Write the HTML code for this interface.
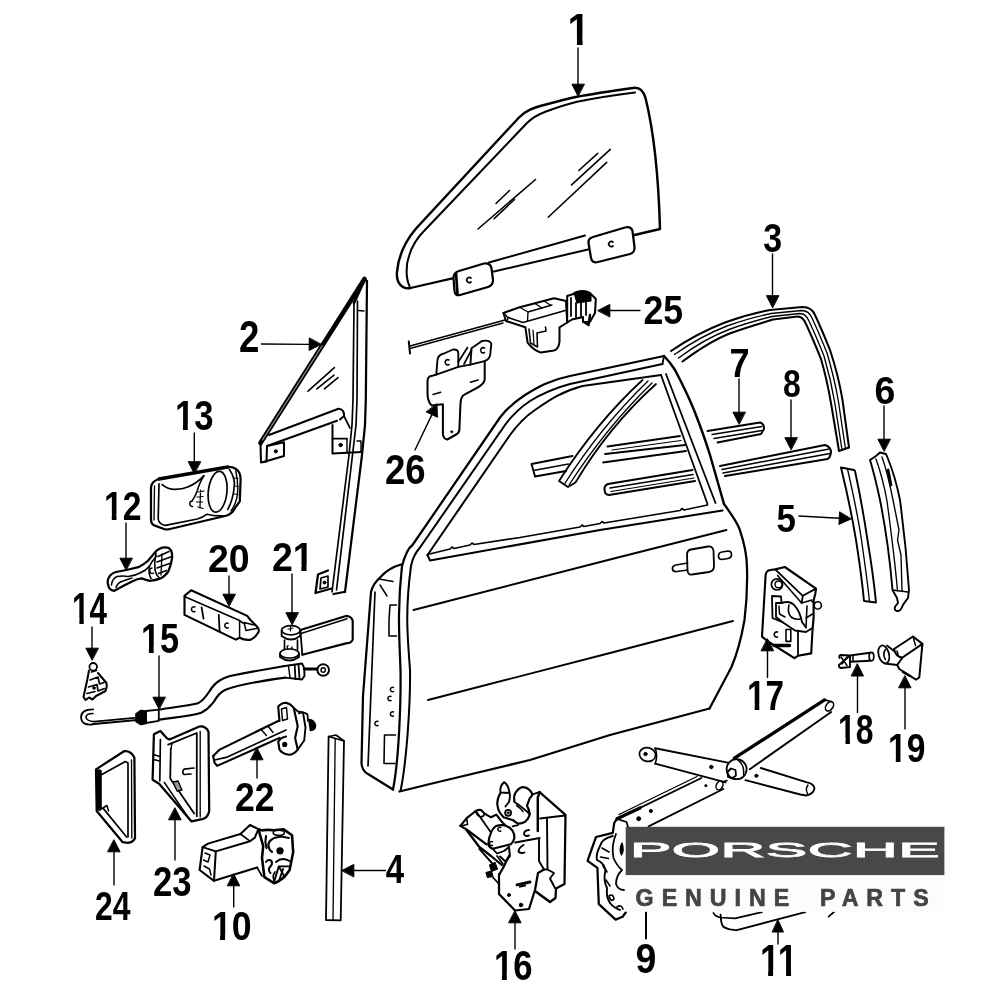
<!DOCTYPE html>
<html><head><meta charset="utf-8"><title>Door parts diagram</title>
<style>
html,body{margin:0;padding:0;background:#fff;}
body{width:1000px;height:1000px;overflow:hidden;position:relative;}
svg{position:absolute;left:0;top:0;display:block;filter:blur(0.35px);}
svg *{stroke:#000;stroke-linecap:round;stroke-linejoin:round;}
svg text{stroke:none;fill:#000;font-family:"Liberation Sans",sans-serif;font-weight:bold;}
svg text.n{stroke:none;}
svg text.p{fill:#fff;font-weight:normal;stroke:#fff;stroke-width:1.7px;vector-effect:non-scaling-stroke;stroke-linejoin:miter;}
svg text.g{fill:#444;stroke:#444;stroke-width:0.7px;}
</style></head><body>
<svg width="1000" height="1000" viewBox="0 0 1000 1000">
<text class="n" font-size="43.5" transform="translate(567.6 45.0) scale(0.927 1)">1</text>
<rect x="568.79" y="39.35" width="8.13" height="7.17" style="fill:#fff;stroke:none"/>
<rect x="582.56" y="39.35" width="10.02" height="7.17" style="fill:#fff;stroke:none"/>
<text class="n" font-size="44.3" transform="translate(238.9 352.0) scale(0.829 1)">2</text>
<text class="n" font-size="40.1" transform="translate(763.3 252.1) scale(0.847 1)">3</text>
<text class="n" font-size="39.9" transform="translate(385.8 883.0) scale(0.828 1)">4</text>
<text class="n" font-size="39.3" transform="translate(776.5 532.1) scale(0.891 1)">5</text>
<text class="n" font-size="39.4" transform="translate(874.5 403.6) scale(0.951 1)">6</text>
<text class="n" font-size="41.2" transform="translate(729.6 377.4) scale(0.878 1)">7</text>
<text class="n" font-size="38.7" transform="translate(783.0 397.1) scale(0.826 1)">8</text>
<text class="n" font-size="42.3" transform="translate(635.5 972.6) scale(0.887 1)">9</text>
<text class="n" font-size="41.5" transform="translate(211.9 940.1) scale(0.858 1)">10</text>
<rect x="212.93" y="934.68" width="7.18" height="6.86" style="fill:#fff;stroke:none"/>
<rect x="225.10" y="934.68" width="7.54" height="6.86" style="fill:#fff;stroke:none"/>
<text class="n" font-size="43.5" transform="translate(759.9 976.0) scale(0.820 1)">11</text>
<rect x="760.93" y="970.35" width="7.19" height="7.17" style="fill:#fff;stroke:none"/>
<rect x="773.11" y="970.35" width="7.54" height="7.17" style="fill:#fff;stroke:none"/>
<rect x="778.87" y="970.35" width="7.19" height="7.17" style="fill:#fff;stroke:none"/>
<rect x="791.05" y="970.35" width="8.86" height="7.17" style="fill:#fff;stroke:none"/>
<text class="n" font-size="41.4" transform="translate(104.0 519.5) scale(0.813 1)">12</text>
<rect x="104.99" y="514.11" width="6.78" height="6.84" style="fill:#fff;stroke:none"/>
<rect x="116.49" y="514.11" width="7.12" height="6.84" style="fill:#fff;stroke:none"/>
<text class="n" font-size="42.3" transform="translate(174.9 430.1) scale(0.820 1)">13</text>
<rect x="175.96" y="424.58" width="6.98" height="6.97" style="fill:#fff;stroke:none"/>
<rect x="187.79" y="424.58" width="7.33" height="6.97" style="fill:#fff;stroke:none"/>
<text class="n" font-size="43.5" transform="translate(72.1 624.0) scale(0.723 1)">14</text>
<rect x="73.06" y="618.35" width="6.33" height="7.17" style="fill:#fff;stroke:none"/>
<rect x="83.79" y="618.35" width="6.65" height="7.17" style="fill:#fff;stroke:none"/>
<text class="n" font-size="42.9" transform="translate(140.9 652.6) scale(0.801 1)">15</text>
<rect x="141.97" y="647.00" width="6.91" height="7.07" style="fill:#fff;stroke:none"/>
<rect x="153.69" y="647.00" width="7.26" height="7.07" style="fill:#fff;stroke:none"/>
<text class="n" font-size="42.3" transform="translate(493.9 979.6) scale(0.820 1)">16</text>
<rect x="494.96" y="974.08" width="6.98" height="6.97" style="fill:#fff;stroke:none"/>
<rect x="506.79" y="974.08" width="7.33" height="6.97" style="fill:#fff;stroke:none"/>
<text class="n" font-size="42.0" transform="translate(747.0 710.0) scale(0.789 1)">17</text>
<rect x="748.00" y="704.54" width="6.68" height="6.93" style="fill:#fff;stroke:none"/>
<rect x="759.33" y="704.54" width="7.02" height="6.93" style="fill:#fff;stroke:none"/>
<text class="n" font-size="42.3" transform="translate(838.1 743.6) scale(0.754 1)">18</text>
<rect x="839.04" y="738.08" width="6.42" height="6.97" style="fill:#fff;stroke:none"/>
<rect x="849.93" y="738.08" width="6.74" height="6.97" style="fill:#fff;stroke:none"/>
<text class="n" font-size="40.1" transform="translate(888.0 762.1) scale(0.839 1)">19</text>
<rect x="888.99" y="756.88" width="6.78" height="6.62" style="fill:#fff;stroke:none"/>
<rect x="900.49" y="756.88" width="7.12" height="6.62" style="fill:#fff;stroke:none"/>
<text class="n" font-size="39.4" transform="translate(207.9 571.6) scale(0.951 1)">20</text>
<text class="n" font-size="40.0" transform="translate(271.9 570.5) scale(0.938 1)">21</text>
<rect x="293.75" y="565.30" width="7.56" height="6.60" style="fill:#fff;stroke:none"/>
<rect x="306.56" y="565.30" width="9.32" height="6.60" style="fill:#fff;stroke:none"/>
<text class="n" font-size="41.4" transform="translate(234.9 811.0) scale(0.859 1)">22</text>
<text class="n" font-size="42.3" transform="translate(153.0 895.6) scale(0.819 1)">23</text>
<text class="n" font-size="41.4" transform="translate(95.0 919.5) scale(0.771 1)">24</text>
<text class="n" font-size="40.1" transform="translate(643.4 323.6) scale(0.890 1)">25</text>
<text class="n" font-size="42.3" transform="translate(384.9 483.6) scale(0.865 1)">26</text>
<line x1="578" y1="48" x2="578.0" y2="84.2" stroke-width="1.4"/>
<polygon points="578,96 571.9,84.2 584.1,84.2" fill="#000" stroke-width="1"/>
<line x1="261.5" y1="344" x2="309.2" y2="344.4" stroke-width="1.4"/>
<polygon points="321,344.5 309.1,350.5 309.3,338.3" fill="#000" stroke-width="1"/>
<line x1="772.5" y1="254" x2="772.5" y2="295.7" stroke-width="1.4"/>
<polygon points="772.5,307.5 766.4,295.7 778.6,295.7" fill="#000" stroke-width="1"/>
<line x1="385.5" y1="870.5" x2="353.8" y2="870.5" stroke-width="1.4"/>
<polygon points="342,870.5 353.8,864.4 353.8,876.6" fill="#000" stroke-width="1"/>
<line x1="799" y1="516" x2="839.2" y2="518.3" stroke-width="1.4"/>
<polygon points="851,519 838.9,524.4 839.6,512.2" fill="#000" stroke-width="1"/>
<line x1="884" y1="406" x2="884.0" y2="439.2" stroke-width="1.4"/>
<polygon points="884,451 877.9,439.2 890.1,439.2" fill="#000" stroke-width="1"/>
<line x1="739" y1="379" x2="739.0" y2="412.2" stroke-width="1.4"/>
<polygon points="739,424 732.9,412.2 745.1,412.2" fill="#000" stroke-width="1"/>
<line x1="791" y1="400" x2="791.0" y2="437.7" stroke-width="1.4"/>
<polygon points="791,449.5 784.9,437.7 797.1,437.7" fill="#000" stroke-width="1"/>
<path d="M646,912 L646,938.5" stroke-width="2.02" fill="none" />
<line x1="233.7" y1="907" x2="233.7" y2="885.8" stroke-width="1.4"/>
<polygon points="233.7,874 239.8,885.8 227.6,885.8" fill="#000" stroke-width="1"/>
<line x1="778" y1="944" x2="778.0" y2="932.0" stroke-width="1.4"/>
<polygon points="778,920 783.5,932.0 772.5,932.0" fill="#000" stroke-width="1"/>
<line x1="126" y1="523" x2="126.0" y2="558.2" stroke-width="1.4"/>
<polygon points="126,570 119.9,558.2 132.1,558.2" fill="#000" stroke-width="1"/>
<line x1="194.3" y1="433" x2="194.3" y2="461.7" stroke-width="1.4"/>
<polygon points="194.3,473.5 188.2,461.7 200.4,461.7" fill="#000" stroke-width="1"/>
<line x1="92" y1="627" x2="92.0" y2="648.2" stroke-width="1.4"/>
<polygon points="92,660 85.9,648.2 98.1,648.2" fill="#000" stroke-width="1"/>
<line x1="159" y1="656" x2="159.0" y2="697.2" stroke-width="1.4"/>
<polygon points="159,709 152.9,697.2 165.1,697.2" fill="#000" stroke-width="1"/>
<line x1="515" y1="949" x2="515.0" y2="922.8" stroke-width="1.4"/>
<polygon points="515,911 521.1,922.8 508.9,922.8" fill="#000" stroke-width="1"/>
<line x1="767.5" y1="677.5" x2="767.5" y2="650.8" stroke-width="1.4"/>
<polygon points="767.5,639 773.6,650.8 761.4,650.8" fill="#000" stroke-width="1"/>
<line x1="857.5" y1="712.5" x2="857.5" y2="676.0" stroke-width="1.4"/>
<polygon points="857.5,664 863.5,676.0 851.5,676.0" fill="#000" stroke-width="1"/>
<line x1="905" y1="729" x2="905.0" y2="687.8" stroke-width="1.4"/>
<polygon points="905,676 911.1,687.8 898.9,687.8" fill="#000" stroke-width="1"/>
<line x1="229" y1="576" x2="229.0" y2="594.2" stroke-width="1.4"/>
<polygon points="229,606 222.9,594.2 235.1,594.2" fill="#000" stroke-width="1"/>
<line x1="292" y1="574" x2="292.0" y2="612.7" stroke-width="1.4"/>
<polygon points="292,624.5 285.9,612.7 298.1,612.7" fill="#000" stroke-width="1"/>
<line x1="257" y1="778" x2="257.0" y2="759.8" stroke-width="1.4"/>
<polygon points="257,748 263.1,759.8 250.9,759.8" fill="#000" stroke-width="1"/>
<line x1="175" y1="860" x2="175.0" y2="819.8" stroke-width="1.4"/>
<polygon points="175,808 181.1,819.8 168.9,819.8" fill="#000" stroke-width="1"/>
<line x1="114" y1="885" x2="114.0" y2="851.8" stroke-width="1.4"/>
<polygon points="114,840 120.1,851.8 107.9,851.8" fill="#000" stroke-width="1"/>
<line x1="640" y1="310.5" x2="609.8" y2="310.5" stroke-width="1.4"/>
<polygon points="598,310.5 609.8,304.4 609.8,316.6" fill="#000" stroke-width="1"/>
<line x1="415" y1="450" x2="431.9" y2="414.6" stroke-width="1.4"/>
<polygon points="437,404 437.4,417.3 426.4,412.0" fill="#000" stroke-width="1"/>
<path d="M410.5,288 C402,289.5 396,283 397,272 C398.5,254 407,239 416.5,228 L519,117.5 C526,110.5 533,108 545,104.8 C560,100.8 570,98.3 577,96.8 C595,93.3 615,90.5 633,88 C640,87 643.5,91 645.5,98 C653,128 658.5,176 660,229 L634.5,235" stroke-width="2.46" fill="none" />
<path d="M409.5,286 C405.5,278 406,264 409,256 C412,246 417,238 424,231 L527,123 C533,117 538,114.5 546,111.5 C560,106.5 570,103.5 577,101.8 C597,97.5 617,94.8 635,92.5" stroke-width="2.02" fill="none" />
<path d="M453.5,278.2 L410.5,288" stroke-width="2.24" fill="none" />
<path d="M585,235.5 L489,262.5" stroke-width="2.02" fill="none" />
<path d="M588,249.5 L494,271.5" stroke-width="2.02" fill="none" />
<path d="M459,271 L484,263.5 Q490,262.5 491.5,268 L493,280 Q493,285.5 488,287 L460,295 Q455,296 454.5,291 L453.5,278 Q453.5,272.5 459,271 Z" stroke-width="2.24" fill="#fff" />
<path d="M456,273 L457.5,294" stroke-width="2.69" fill="none" />
<path d="M593,237 L625,227.5 Q631,226 632.5,231 L634.5,247 Q635,252.5 630,254 L598,262 Q592,263.5 591,258 L588.5,243 Q588,238.5 593,237 Z" stroke-width="2.24" fill="#fff" />
<path d="M471,278 A2.6,2.6 0 1 0 471,282" stroke-width="1.68" fill="none" />
<path d="M613,242 A2.6,2.6 0 1 0 613,246" stroke-width="1.68" fill="none" />
<path d="M478,229 L535.5,179.5" stroke-width="1.57" fill="none" />
<path d="M496,203.5 L509.5,190.5" stroke-width="1.57" fill="none" />
<path d="M494.2,218.6 L514.5,199.5" stroke-width="1.57" fill="none" />
<path d="M548.2,217.3 L606.7,162.4" stroke-width="1.57" fill="none" />
<path d="M578.8,170.5 L597.7,153.4" stroke-width="1.57" fill="none" />
<path d="M571.6,184.9 L610.3,149.4" stroke-width="1.57" fill="none" />
<path d="M364.5,279 L260.5,443" stroke-width="4.7" fill="none" />
<path d="M367,281 L365.8,400 L365,425 L362,455 L345,592" stroke-width="2.24" fill="none" />
<path d="M357.5,301 L357,400 L356,425 L352.5,455 L336.5,590" stroke-width="1.68" fill="none" />
<path d="M354,303 L353,400 L352,425 L349,455 L332,592" stroke-width="1.68" fill="none" />
<path d="M364.5,279 L367,281" stroke-width="2.24" fill="none" />
<path d="M354,303 L364,281" stroke-width="2.8" fill="none" />
<path d="M358.5,310.5 L364,311" stroke-width="1.46" fill="none" />
<path d="M269,435 L338.5,408.8 Q344.5,409.5 344,416 L340,419.5" stroke-width="2.02" fill="none" />
<path d="M337,420.8 L267,446" stroke-width="2.02" fill="none" />
<path d="M344,416 L350,428" stroke-width="1.68" fill="none" />
<path d="M260.5,443 L261,462.5 L266.5,461.5 L267,446" stroke-width="2.02" fill="none" />
<path d="M267,446 L284,442.3 L284,456 L263.5,462" stroke-width="2.02" fill="none" />
<circle cx="275.8" cy="451.3" r="1.6" stroke-width="1" fill="#000"/>
<path d="M332.5,425 L332.5,453.5 L362,452" stroke-width="2.02" fill="none" />
<path d="M332.5,438.7 L347,438.7" stroke-width="1.79" fill="none" />
<path d="M347,438.7 L347,453" stroke-width="1.46" fill="none" />
<circle cx="340.6" cy="445" r="1.7" stroke-width="1" fill="#000"/>
<path d="M357,441 L361,441 L361,452" stroke-width="1.46" fill="none" />
<path d="M308,391.2 L334.4,367.6" stroke-width="1.57" fill="none" />
<path d="M316.8,388.8 L334,375.2" stroke-width="1.57" fill="none" />
<path d="M324.4,388.8 L338,377.6" stroke-width="1.57" fill="none" />
<line x1="322" y1="346" x2="262.5" y2="440" style="stroke:#999;stroke-width:1.1"/>
<path d="M331.5,588.5 L315.5,593 L318,574.5 L328,570.5" stroke-width="2.24" fill="none" />
<path d="M321,578 L328,576 L328,587 L320,589 L321,578" stroke-width="1.68" fill="none" />
<circle cx="324.5" cy="582.5" r="1.5" stroke-width="1" fill="#000"/>
<path d="M333.5,594 L344,592" stroke-width="2.24" fill="none" />
<path d="M393,789.5 C399,760 401,700 400.5,670 C399.5,640 397,610 402,566 C405,555 408,548 412.5,545 L500,417.5 C508,407 516,401 525,395 C538,387 550,380 570,376 L664,356" stroke-width="2.24" fill="none" />
<path d="M400.5,791 C407,760 410.5,700 410,670 C408,640 404.5,615 411,566 C413,556 416,552 420,547.5 L505,425 C513,414 521,407 530,401 C543,393 555,388 570,384 L662.5,364" stroke-width="2.02" fill="none" />
<path d="M427.5,555 L510,435 C518,424 526,416 535,410 C548,401 560,392 582.5,386 L661,375" stroke-width="2.02" fill="none" />
<path d="M664,356 C669,361 672,365 675,370 C683,385 690,400 695,412.5 C701,428 706,442 710,455 L724,504" stroke-width="2.46" fill="none" />
<path d="M661,375 L707.5,504" stroke-width="1.79" fill="none" />
<path d="M666,374 L715.5,503" stroke-width="1.79" fill="none" />
<path d="M662.5,364 L664,356" stroke-width="1.79" fill="none" />
<path d="M427.5,554.5 L450,549 L452,547 L454,548.5 L470,545 L472,543 L474,544.5 L520,537.5 L580,527 L582,525 L584,526.5 L600,523.5 L602,521.5 L604,523 L680,510.5 L682,508.5 L684,510 L707.5,505" stroke-width="1.68" fill="none" />
<path d="M427.5,555 L430,560.5 L600,530 L722.5,510.5" stroke-width="2.02" fill="none" />
<path d="M724,504 C732,515 737,522 739.5,529 C744,542 747,555 747,568 C747.5,586 746.5,604 744.5,620 C741,640 737,654 731.5,667 L709.5,708.5" stroke-width="2.24" fill="none" />
<path d="M709.5,708.5 L610,735 L530,760 L430,784 L399.5,791.5" stroke-width="2.24" fill="none" />
<path d="M413.5,610 L610,559.5 L726.5,530" stroke-width="1.9" fill="none" />
<path d="M428,700 L610,653 L733,621" stroke-width="1.9" fill="none" />
<path d="M401,564.5 C392,567 386,571 381,576.5 C375,582 372,587 371,592 L363,696 L361.5,763.5 C362,769 364,772 368,774 L393,789.5" stroke-width="2.24" fill="none" />
<path d="M375,592 L368,766" stroke-width="1.68" fill="none" />
<path d="M379,579 L393,581.5" stroke-width="1.46" fill="none" />
<path d="M380,585 L387,596" stroke-width="1.46" fill="none" />
<path d="M396.5,605 L390,605 Q388.5,620 389,636 L396.5,636" stroke-width="1.57" fill="none" />
<path d="M395.5,735 L384.5,735 L384,763.5 L395,763.5" stroke-width="1.57" fill="none" />
<path d="M393.5,687.5 A2.2,2.2 0 1 0 393.5,691.5" stroke-width="1.46" fill="none" />
<path d="M391,696.5 A2.2,2.2 0 1 0 391,700.5" stroke-width="1.46" fill="none" />
<path d="M393.5,712 A2.2,2.2 0 1 0 393.5,716" stroke-width="1.46" fill="none" />
<path d="M378,721.5 A2.2,2.2 0 1 0 378,725.5" stroke-width="1.46" fill="none" />
<path d="M691,549.5 L708,546.5 Q713,546 713.5,551 L714,566 Q714,571 709,572 L692,574.5 Q687.5,575 687.5,570 L687,555 Q687,550 691,549.5 Z" stroke-width="1.79" fill="none" />
<path d="M687.5,563 L676,565 Q672,566 672.5,569 Q673,572 677,571.5 L687.5,570" stroke-width="1.68" fill="none" />
<path d="M722,552 L728,551 Q731.5,551 731.5,554.5 Q731.5,558 728,558.5 L722,559.5 Q718.5,559.5 718.5,556 Q718.5,552.5 722,552 Z" stroke-width="1.68" fill="none" />
<path d="M642.5,380 C610,410 580,448 559,481 L568,487 L575.5,482.5 C596,448 625,412 656,384" stroke-width="1.79" fill="none" />
<path d="M648,381 C616,412 586,450 564.5,484" stroke-width="1.34" fill="none" />
<path d="M652,383 C620,414 591,451 569,485" stroke-width="1.34" fill="none" />
<path d="M572.5,456 L531.5,464 L533.5,471 L535,476.5 L566,471" stroke-width="1.9" fill="none" />
<path d="M533.5,470.5 L568.5,464" stroke-width="1.34" fill="none" />
<path d="M607.5,446.5 L680,436" stroke-width="1.79" fill="none" />
<path d="M605,454 L685,445" stroke-width="1.79" fill="none" />
<path d="M603,462.5 L686,451" stroke-width="1.79" fill="none" />
<path d="M612,450 L681,440.5" stroke-width="1.23" fill="none" />
<path d="M707.5,431 L760,422.5 Q764.5,424 764,429 L761,434 L717.5,442.5" stroke-width="1.9" fill="none" />
<path d="M712,434.5 L762,426.5" stroke-width="1.34" fill="none" />
<path d="M714,438.5 L762,430.5" stroke-width="1.34" fill="none" />
<path d="M692.5,470 L608,484 Q604,485.5 604.5,490 Q605,495 609,495 L695,481" stroke-width="2.02" fill="none" />
<path d="M610,488 L693,474.5" stroke-width="1.57" fill="none" />
<path d="M611,491.5 L694,478" stroke-width="1.23" fill="none" />
<path d="M720,466 L825,445 Q831,447 831,452.5 Q830,458 827.5,459 L725,476" stroke-width="2.02" fill="none" />
<path d="M722,469.5 L829,449" stroke-width="1.46" fill="none" />
<path d="M723,473 L830,453.5" stroke-width="1.46" fill="none" />
<path d="M671,351 C690,338 708,329 725,322.5 C740,317 755,313 770,310 L802.5,307 C809,307 813,310 815,315 C822,330 826,340 830,350 C836,368 840,385 842.5,400 L849,447.5" stroke-width="2.02" fill="none" />
<path d="M674.5,354.5 C693,341.5 710,332.5 727,326 C742,320.5 757,316.5 771,313.5 L801.5,310.5 C807,310.5 810,313 812,318 C819,333 823,343 827,353 C832,370 836,387 838.5,402 L845.5,449" stroke-width="1.34" fill="none" />
<path d="M678.5,358 C696,345 712,336 729,329.5 C744,324 758,320 772,316.5 L799.5,313.5 C804,313.5 807,316 809,321 C816,336 820,346 824,356 C829,373 832.5,389 835,404 L842,450" stroke-width="1.34" fill="none" />
<path d="M682.5,361.5 C700,348.5 714,339.5 731,333 C746,327.5 760,323.5 773,319.5 L797.5,316.5 C801,316.5 804,319 806,324 C813,339 817,349 821,359 C826,376 829,391 831.5,406 L839,451 L849,447.5" stroke-width="2.02" fill="none" />
<path d="M841,467.5 L854,470 L855,471 C860,494 864,517 867.5,540 C871,561 874,582 876,602.5 L864,601 C862,580 859,559 856,540 C852,516 847,492 841,467.5 Z" stroke-width="1.9" fill="none" />
<path d="M847.5,469 C853,493 858,517 861.5,540 C864.5,561 867.5,582 869.5,601.5" stroke-width="1.34" fill="none" />
<path d="M870,460 L876,456 L880,452.5 L886,454 L887.5,457.5 C893,471 897,485 900,500 C904,530 907,560 909,590 L908,598 C905,602 903,604 902,607 Q900.5,611.5 896.5,611 Q893.5,609.5 895.5,606 L898,603 L897,598 L892.5,590 C890,560 886,530 880,500 C877,486 874,473 870,460 Z" stroke-width="1.9" fill="none" />
<path d="M876,459 C881,473 884.5,487 887,501 C891,531 895,561 897.5,591" stroke-width="1.34" fill="none" />
<path d="M882,457 C887,471 890,485 893,500 C895,510 896,515 897,520 L899,530 L897.5,540 L901,555 L902,591" stroke-width="1.34" fill="none" />
<path d="M888,470 L891,485" stroke-width="2.8" fill="none" />
<path d="M892.5,590 L908,592" stroke-width="1.57" fill="none" />
<path d="M408.8,341.5 L410,353.5" stroke-width="2.02" fill="none" />
<path d="M410,346 L505,320" stroke-width="1.68" fill="none" />
<path d="M410,348.5 L503,323" stroke-width="1.34" fill="none" />
<path d="M436.3,374.6 L437.4,360.3 Q438,354.5 444,353.5 L453,349.5 Q458,349 458.3,353 L458.3,366.9 Z" stroke-width="1.9" fill="#fff" />
<path d="M449,360 A2.6,2.6 0 1 0 449,364.5" stroke-width="1.57" fill="none" />
<path d="M470.4,364.7 L471.5,348.2 L482,341 Q490,339.5 491.3,344 L490.2,355 Q489,360 483.6,361.4 Z" stroke-width="1.9" fill="#fff" />
<path d="M484.5,348 A2.6,2.6 0 1 0 484.5,352.5" stroke-width="1.57" fill="none" />
<path d="M458.3,362 L467.5,347.5" stroke-width="1.68" fill="none" />
<path d="M464,364 L471.5,350" stroke-width="1.68" fill="none" />
<path d="M458.3,366.9 L470.4,364.7" stroke-width="1.68" fill="none" />
<path d="M436.3,374.6 L429.5,376.5 Q427.5,378 427.5,381 L427.5,394.4 Q428,402 431.5,405.4 L442.9,404.3 L442.9,434 Q443.5,439 447.3,439.5 L457,434 Q459.5,432.5 459.4,429 L460.5,403.2 Q461,396 464.9,394.4 L477,387.8 Q484.5,384 484.7,379 L484.7,361" stroke-width="2.02" fill="none" />
<path d="M433,394.4 L440.7,392.2" stroke-width="1.57" fill="none" />
<path d="M470.4,382.3 L478.1,380.1" stroke-width="1.57" fill="none" />
<circle cx="451.7" cy="431.8" r="1" stroke-width="1" fill="#000"/>
<path d="M503.4,313 L518.8,307.5 L554,298.3 L566,301 L567.2,322.5 L559.5,327.3 L559.5,341.6 Q558.5,349.5 554,350.4 L540.8,352.6 Q533,350 527.6,342.7 L525.4,327.3 L506,321 Z" stroke-width="2.02" fill="none" />
<path d="M503.4,313 L508,317.5 L523,322.5 L567,310" stroke-width="1.57" fill="none" />
<path d="M508,317.5 L507,321.5" stroke-width="1.34" fill="none" />
<path d="M520,307.5 L528,312 L527.5,321" stroke-width="1.34" fill="none" />
<path d="M528,312 L552,305" stroke-width="1.34" fill="none" />
<path d="M535,303.5 L542,308" stroke-width="1.34" fill="none" />
<path d="M544,301 L551,305.5" stroke-width="1.34" fill="none" />
<path d="M529,329 L530.5,343 L537.5,347 L537,333 L546,331 L545.5,327" stroke-width="1.57" fill="none" />
<path d="M533,330 L534,344.5" stroke-width="1.23" fill="none" />
<path d="M567.2,296 L575,293.5 L592,295 L595.8,299 L595,313 L590,321.8 L583,322 L583,317 L572,319.5 L567.2,322.5 Z" stroke-width="2.02" fill="#fff" />
<path d="M574,292.5 Q583,288.5 591,293 L591,301 L577,303 Z" stroke-width="1.12" fill="#000" />
<path d="M571,298 L571,316 M576,303 L576,317 M581,303 L581,316 M586,301 L586,315" stroke-width="1.79" fill="none" />
<path d="M590,315 L588.5,325 L584,322" stroke-width="2.46" fill="none" />
<path d="M159,479 L227.8,467" stroke-width="3.58" fill="none" />
<path d="M159,479 Q152,481 151,487 L151,519 Q151,524 154.2,525.4 L164,529 Q166,530 170,529 L225,516 Q232,514.5 235,508 L239.8,501.4 L240.6,479 Q240.5,472 236,469 Q232,466.5 227.8,467" stroke-width="2.24" fill="none" />
<path d="M159,483.8 L158.2,519 Q159,524.5 165.4,525.4 L197.4,519 Q203,517.5 207,514.2 Q215,516.5 223,515.8" stroke-width="1.68" fill="none" />
<path d="M154.5,486 L154,520" stroke-width="1.34" fill="none" />
<path d="M162.2,484.6 Q168,489.5 175,489.4 Q182,489.5 187.8,487 Q197,483 203.8,475.8" stroke-width="1.79" fill="none" />
<path d="M203.8,475.8 Q199,484 197.4,490.2 Q195,497 192.5,500" stroke-width="1.57" fill="none" />
<path d="M192.5,501 A2.6,2.6 0 1 0 192.5,506.5" stroke-width="1.46" fill="none" />
<path d="M198,492 L204,491 M197,497 L203,496.5 M196.5,502 L202.5,502 M198,507 L203,508.5 M200.5,490 L200,508" stroke-width="1.23" fill="none" />
<ellipse cx="217.6" cy="491.8" rx="9.3" ry="20.5" stroke-width="1.7" fill="none" transform="rotate(6 217.6 491.8)"/>
<path d="M229.4,469.4 Q235.5,478 234.2,487 Q233,500 227.8,509.4" stroke-width="1.68" fill="none" />
<path d="M235.8,471 Q238.5,483 237.4,495 Q236,504 231,511" stroke-width="1.46" fill="none" />
<path d="M234.5,478 L238,478.5 M235,486 L238.5,486.5 M234,494 L238,494.5" stroke-width="1.23" fill="none" />
<path d="M107.6,582.4 Q108,577.5 110.4,575.2 Q113,572.8 116,572 L126.4,570 L138.4,567.2 Q144,564.5 148,560.8 L156,551.2 Q159,548.5 162.4,547.6 Q166,546.8 168.8,548 Q171.5,550 172,553.6 Q172.5,557 171.6,560.8 Q170.5,567 168,572 Q165,576 160.8,578.4 Q155,580.5 149.6,580.8 Q145,579.5 141.6,578.4 Q137,579 133.6,580.8 L124,585.6 L114.4,590.8 Q110,590.5 108.8,587.2 Z" stroke-width="2.24" fill="none" />
<path d="M111.5,585 Q112,579 117,576.5 Q123,575.5 128,576.5 Q135,576 141,572.5" stroke-width="1.57" fill="none" />
<path d="M116,587.5 Q117.5,582.5 123,581 L132,578" stroke-width="1.46" fill="none" />
<path d="M141,572.5 Q146,570.5 149.5,566 Q152,561 156.5,556" stroke-width="1.57" fill="none" />
<path d="M149.5,566 Q148,573 151,578.5" stroke-width="1.57" fill="none" />
<path d="M156,553.5 Q154,562 155,570 Q156,575 159,577.5" stroke-width="1.57" fill="none" />
<path d="M158,556.5 L169,551.5 M157,562 L170.5,557 M157,568 L169.5,563.5 M158.5,573.5 L166.5,570.5" stroke-width="1.46" fill="none" />
<path d="M162,554 L161,575" stroke-width="1.34" fill="none" />
<path d="M152,568 A2.3,2.8 0 1 0 153.5,573" stroke-width="1.34" fill="none" />
<circle cx="93.2" cy="666.8" r="3.8" stroke-width="1.8" fill="none"/>
<path d="M89,670.5 L87.2,680 L83.5,697 L85.5,700 L89,697.5 L92.5,699.5 L96,696 L105.5,691 Q107.5,687 106.5,683 L98,673" stroke-width="2.02" fill="none" />
<path d="M90,680 L98,677 L99.5,684 L104,682.5 M88.5,687 L97,684.5 L98,691 L104.5,688.5 M87,693.5 L95,691.5" stroke-width="1.68" fill="none" />
<path d="M91.5,672 L96.5,670.5" stroke-width="1.57" fill="none" />
<circle cx="94" cy="688" r="1.3" stroke-width="1" fill="#000"/>
<path d="M93.2,709.4 Q81,709.5 81,717.5 Q82,726.5 94,724 L137,720" stroke-width="1.79" fill="none" />
<path d="M93,713.5 Q86,713.5 86,717.5 Q86.5,721 94,721.6 L137.2,717.6" stroke-width="1.57" fill="none" />
<path d="M136,714 L141,710.5 L146,711 L146,723.5 L141,724.5 L136,721.5 Z" stroke-width="1.68" fill="#000" />
<path d="M146,711 L158.8,709.6 L158.8,720.8 L146,723 Z" stroke-width="1.79" fill="none" />
<path d="M158.8,709.6 C175,707 190,705.5 198,703.2 C205,700 208,693 212,687.5 C216,682 221,678.5 230,676 C250,672 270,668.5 283.3,666.2" stroke-width="2.13" fill="none" />
<path d="M158.8,719.6 C178,717 192,716 201.2,712.8 C209,709 211,705 214,701.6 C217,696 221,692 225,690 C235,686 260,681 285.2,677.6" stroke-width="2.13" fill="none" />
<path d="M283.3,666.2 L302,663.5 L304.2,668 L304.5,676 L302,679.5 L285.2,677.6" stroke-width="1.9" fill="none" />
<path d="M288.5,666 L290,677.5" stroke-width="1.46" fill="none" />
<path d="M294.7,665 L295.5,679" stroke-width="1.79" fill="none" />
<path d="M298.5,664.5 L299.5,679" stroke-width="1.79" fill="none" />
<path d="M304.2,669 L317,669" stroke-width="2.91" fill="none" />
<circle cx="323.2" cy="670" r="5.8" stroke-width="2" fill="none"/>
<circle cx="323.2" cy="670" r="2.2" stroke-width="1.4" fill="none"/>
<path d="M184.5,595.9 L191.2,590.2 L247.2,615.9 L250,619.5 L256.7,626.3 Q259.5,629 258.6,632 Q256,637 251,639.6 Q245,640.5 239.6,637.7 L235.8,639.6 L184.5,614.9 Z" stroke-width="2.13" fill="none" />
<path d="M185.5,597 L239.6,620.6 L243,623" stroke-width="1.68" fill="none" />
<path d="M201.6,607.3 L203.5,618.7" stroke-width="1.79" fill="none" />
<path d="M218.7,614.9 L219.7,632" stroke-width="1.79" fill="none" />
<path d="M195,607 A2.5,2.5 0 1 0 195,611.5" stroke-width="1.46" fill="none" />
<path d="M228.3,623.3 A2.5,2.5 0 1 0 228.3,627.8" stroke-width="1.46" fill="none" />
<path d="M239.6,620.6 L239.6,637.7" stroke-width="1.46" fill="none" />
<path d="M244,622.5 L254,625 M246,630.5 L256.5,628.5 M244,622.5 L246,630.5" stroke-width="1.46" fill="none" />
<path d="M300.4,630.1 L346,615.9 Q351,616 352.7,620.6 L352.7,639.6 Q351.5,643 346,643.4 L302.3,654.8" stroke-width="2.13" fill="none" />
<path d="M301,633.5 L347,618.8" stroke-width="1.46" fill="none" />
<path d="M300.4,630.1 L302.3,654.8" stroke-width="1.79" fill="none" />
<ellipse cx="290.9" cy="630.3" rx="9.3" ry="4.6" stroke-width="1.7" fill="#fff" transform="rotate(0 290.9 630.3)"/>
<path d="M281.6,630.3 L281.6,636 Q291,643 300.2,636 L300.2,630.3" stroke-width="1.79" fill="none" />
<path d="M288,629 L293,628 M290.5,626.5 L290.5,631" stroke-width="1.23" fill="none" />
<path d="M284.5,640 L284.5,650 M297.5,640 L297.5,650" stroke-width="1.68" fill="none" />
<path d="M288,645.5 A2.4,2.4 0 1 0 292,647" stroke-width="1.34" fill="none" />
<ellipse cx="289.5" cy="653.5" rx="9.5" ry="4.5" stroke-width="1.7" fill="#fff" transform="rotate(0 289.5 653.5)"/>
<path d="M280,653.5 L280,657 Q289.5,664 299,657 L299,653.5" stroke-width="1.79" fill="none" />
<path d="M96,769.4 L124,751.2 Q131,750.5 134.4,757.7 L135,838.3 Q133,842.5 127.9,842.9 L122.7,842.2 L96.7,811 Z" stroke-width="2.24" fill="none" />
<path d="M99,772 L99,808" stroke-width="5.6" fill="none" />
<path d="M101.9,774.6 L125.3,761.6 L128,763 L128,837" stroke-width="1.68" fill="none" />
<path d="M131.5,760 L131.8,838" stroke-width="1.34" fill="none" />
<path d="M103.2,808.4 L126.6,837" stroke-width="1.68" fill="none" />
<path d="M99.5,810 L107,805.5 L108.5,811" stroke-width="1.46" fill="none" />
<path d="M153.9,734.3 L160.4,731 L166.9,738.2 L169.5,739.5 L199.4,726.5 Q206,726 208.5,731.7 L209.2,811 Q208,817.5 203.3,818.8 L191.6,821.4 L159.1,783.7 L152.6,779.8 Z" stroke-width="2.24" fill="none" />
<path d="M160.4,739.5 L159.8,781" stroke-width="1.68" fill="none" />
<path d="M153.3,754.5 L159.8,756.5 M153.3,759.5 L159.8,761" stroke-width="1.34" fill="none" />
<path d="M168.2,744.7 L196.8,733 L196.8,816.2" stroke-width="1.79" fill="none" />
<path d="M200.2,731.5 L200.2,817" stroke-width="1.34" fill="none" />
<path d="M170.8,748.6 L170.2,778.5 L194.2,813.6" stroke-width="1.79" fill="none" />
<path d="M164.3,782.4 L189,818.8" stroke-width="1.57" fill="none" />
<path d="M172,744 L171,748.6" stroke-width="1.34" fill="none" />
<path d="M194,768 L184,769.2 Q181.5,772 184,774.5 L191,774" stroke-width="1.68" fill="none" />
<path d="M173,782 L178,781 L182,790 L177,791 Z" stroke-width="1.34" fill="#999" />
<path d="M213.2,756.1 L219.7,749.6 L278.2,721" stroke-width="2.13" fill="none" />
<path d="M213.2,756.1 L214.5,762.6 L217.1,765.9 L279.5,737.9" stroke-width="2.13" fill="none" />
<path d="M214.5,760 L226.2,757.4 L286,730.1" stroke-width="1.68" fill="none" />
<path d="M261,729.5 L266.5,735.5 M268,726 L273,732.5" stroke-width="1.46" fill="none" />
<path d="M279.5,721 L278.2,706.7 Q281,703 286,702.8 Q291,704 293.8,708 L297.7,726.2 L295.1,737.9 L297.7,749.6 Q294,754.5 288.6,754.8 Q282,753.5 279.5,749.6 L278.2,741.8 Q280,738 286,736.5" stroke-width="2.13" fill="none" />
<path d="M281.5,709 L286.5,707.5 L287.5,719 L282.5,720.5 Z" stroke-width="1.46" fill="none" />
<circle cx="284.7" cy="744.4" r="2" stroke-width="1.2" fill="#000"/>
<path d="M293.8,708 L298,711.5 L303,712.5 L305.5,727.5 L304.2,740.5 L297.7,749.6" stroke-width="1.9" fill="none" />
<path d="M299,713.5 Q303,711 307.5,714.5 L308,721" stroke-width="1.79" fill="none" />
<path d="M309,719.5 Q314,720 315.5,725 Q315.5,730 310.5,730.5 Z" stroke-width="1.68" fill="#000" />
<path d="M202.6,847.2 L199.6,870 L214,880.8 L257.2,867.6" stroke-width="2.13" fill="none" />
<path d="M202.6,847.2 L208,843.6 L240.4,834 L250,825 L258.4,829.2 L254.8,837.6 L250,841.2 L215.8,851.4 L214,880.8" stroke-width="2.02" fill="none" />
<path d="M202.6,847.2 L215.8,851.4" stroke-width="1.79" fill="none" />
<path d="M240.4,834 L250,841.2" stroke-width="1.68" fill="none" />
<path d="M205,853 L210,855 L208,862 L203.5,860 M204,866 L209.5,869 L211,875" stroke-width="1.46" fill="none" />
<path d="M258.4,829.2 L262,830.4 L268,829.8 L274,830.4 L283.6,829.2 L292,835.2 L293.2,852 L289.6,870 Q283,880.5 274,883.2 L264.4,877.2 L262,858 L263.2,846 Z" stroke-width="2.58" fill="none" />
<ellipse cx="278.8" cy="832.8" rx="5.6" ry="2.6" stroke-width="1.6" fill="#fff" transform="rotate(0 278.8 832.8)"/>
<path d="M272.8,838.8 Q268,841.5 268.5,846 Q269,850 272,852 M266,836 Q264.5,842 266.5,848" stroke-width="2.13" fill="none" />
<path d="M274,838 L281,836.5 L289,838" stroke-width="1.79" fill="none" />
<circle cx="280" cy="850.8" r="3" stroke-width="1.3" fill="#000"/>
<path d="M266,862 Q268.5,858.5 271.5,861 Q273,864 270,867 Q267.5,870 270.5,873" stroke-width="2.02" fill="none" />
<path d="M276,862 Q282,856.5 289.5,861 M278.8,866.4 L274,882 M278.8,866.4 L284.8,877.2 M278.8,866.4 L289.6,866.4 M283,869 L279,881" stroke-width="1.9" fill="none" />
<path d="M275,872 Q272,876 274,880" stroke-width="1.68" fill="none" />
<path d="M257.2,867.6 L262,876" stroke-width="1.68" fill="none" />
<path d="M328.6,736.5 L326,920 L340.7,920.3 L344,741 Z" stroke-width="1.79" fill="none" />
<path d="M335.2,738.5 L333,920" stroke-width="1.34" fill="none" />
<path d="M329,736.5 L336,735 L344,741" stroke-width="1.57" fill="none" />
<path d="M539.6,792.1 L565.5,814.8 L564.5,884 L556,888.5 L555.5,898 L550,902 L535,891" stroke-width="2.24" fill="none" />
<path d="M539.6,792.1 L537.8,797.5 L537.8,831" stroke-width="2.46" fill="none" />
<path d="M540,818.5 L565,815.5" stroke-width="1.79" fill="none" />
<path d="M547,819 L547.5,869" stroke-width="1.9" fill="none" />
<path d="M539,839.5 L539,861 L544,869.5 L547.5,869.5 L554,873 L550,878.5 L555,888" stroke-width="1.9" fill="none" />
<path d="M532.4,794.4 L539.6,792.1" stroke-width="2.02" fill="none" />
<path d="M500.5,792.5 Q499.5,786 504,782.2 Q508.5,785 509.5,793 Z" stroke-width="2.02" fill="none" />
<path d="M500.5,793 Q497,798 497.3,804.7 Q498,810 500,812.8 L503.6,817.3 L512.6,820" stroke-width="2.13" fill="none" />
<path d="M509.9,794 Q510,799 509,802 L505.4,806.5" stroke-width="1.9" fill="none" />
<circle cx="508.1" cy="812.8" r="3" stroke-width="1.8" fill="none"/>
<circle cx="508.1" cy="812.8" r="1" stroke-width="1" fill="#000"/>
<path d="M514.4,801.5 Q513.5,796 515.3,793 Q518,788.5 521.6,787.2 Q526,787 528.8,789.4 Q531.5,791.5 532.4,794.4 Q531.5,797 529.7,798.4 L527,805.6 Q529.5,810 529.7,814.6 Q528.5,819 525.2,821.8 Q521,824 518,823.6 L512.6,820" stroke-width="2.13" fill="none" />
<path d="M514.4,802 Q521,806 529.7,814" stroke-width="2.02" fill="none" />
<path d="M516.5,805.5 Q520,807.5 523,811.5" stroke-width="1.57" fill="none" />
<path d="M515.3,842.5 L539.6,838" stroke-width="2.13" fill="none" />
<path d="M512.6,826.3 L518,825.2" stroke-width="1.79" fill="none" />
<path d="M529,830 Q524,830.5 524,834 Q525,837 529,835.5" stroke-width="1.9" fill="none" />
<path d="M523.5,845 Q519,847.5 518.5,851.5 Q521,854 524.5,852.5" stroke-width="1.9" fill="none" />
<path d="M491,832.6 Q492.5,828.5 495.5,826.3 Q500,824.5 505.4,825.4 Q510,827 512.6,830.8 Q514.5,834 514.4,838 Q513.5,842 510.8,844.3 L492.8,848.8 Q489,847.5 488.3,844.3 Q488.5,838 491,832.6 Z" stroke-width="2.13" fill="none" />
<path d="M500.8,827.5 A2,2 0 1 0 500.8,831" stroke-width="1.46" fill="none" />
<path d="M492.5,841.8 A2,2 0 1 0 492.5,845.3" stroke-width="1.46" fill="none" />
<path d="M460.4,825.9 L466.7,818.2 L475.7,811 Q478.5,809.5 481.1,810.1 L484.7,813.7 L491,817.3 L496.4,814.6 L501.8,821.8 L505.4,825.4" stroke-width="2.13" fill="none" />
<path d="M460.4,825.9 L465.8,829 L486.5,844.3" stroke-width="2.24" fill="none" />
<path d="M460.4,825.9 L467.5,824.5 L466.7,818.2" stroke-width="1.57" fill="none" />
<path d="M476.6,811.9 L491,832.6" stroke-width="1.79" fill="none" />
<path d="M475.7,811 Q476,815 480.5,817 Q484,816.5 484.7,813.7" stroke-width="1.57" fill="none" />
<path d="M466.5,830 L479.3,847 L491,856 L501.8,865" stroke-width="2.24" fill="none" />
<path d="M479.3,848.8 L493.7,865" stroke-width="1.9" fill="none" />
<path d="M492.8,848.8 L497,853.5 L504,851 L509,847" stroke-width="1.79" fill="none" />
<path d="M509,847 L509.9,856 L505.4,861.4 L500,856.5" stroke-width="2.02" fill="none" />
<path d="M497,856 L503,864" stroke-width="1.68" fill="none" />
<path d="M489.5,865 L495,862.5 L497.5,869 L491.5,871.5 Z" stroke-width="1.12" fill="#000" />
<path d="M486,872.5 L491.5,871 L493,876.5 L487.5,877.5 Z" stroke-width="1.12" fill="#000" />
<path d="M493,877.5 L499,884 L499,873.5" stroke-width="1.68" fill="none" />
<path d="M509,856 L503,868 L499,875 L499,894 L515,910.5 L529,909 L535,890 L538,873 L544,869.5" stroke-width="2.24" fill="none" />
<path d="M517,884.8 L530,882" stroke-width="2.91" fill="none" />
<path d="M520,886.5 L525,885.5" stroke-width="2.24" fill="none" />
<circle cx="509" cy="895" r="1.5" stroke-width="1" fill="#000"/>
<circle cx="521" cy="905" r="1.8" stroke-width="1" fill="#000"/>
<path d="M535,891 L550,902" stroke-width="1.9" fill="none" />
<path d="M765.6,575.4 Q766,570.5 770.4,570 L775.2,569.4 L784.8,567 L816,588.6 L815.4,593.4 L813.6,600.6 L813.6,617.4 L812.4,631.8 L811.2,653.4 L798,655.8 L794.4,658.2 L768,641.5 L762,636.6 Z" stroke-width="2.13" fill="none" />
<path d="M775.2,569.4 L802.8,595.8 L816,588.6" stroke-width="1.79" fill="none" />
<path d="M802.8,595.8 L801.6,603" stroke-width="1.79" fill="none" />
<path d="M777.6,575.4 L801.6,603 L812,600" stroke-width="1.57" fill="none" />
<circle cx="777" cy="584.4" r="5.6" stroke-width="1.7" fill="none"/>
<circle cx="778.5" cy="584.4" r="3.4" stroke-width="1.4" fill="none"/>
<path d="M772,596 L781,596.5 L781.5,603 L776,603 L776,617 L783,622.5 L772.5,618 Z" stroke-width="1.79" fill="none" />
<path d="M781.5,603 Q790,600 795,606 Q800,612 802,622 L806,627.5" stroke-width="1.9" fill="none" />
<path d="M783,622.5 L795,630.5 L806,632 L812.4,628" stroke-width="1.79" fill="none" />
<path d="M789,605 Q787,612 791,617 Q795,620 800,619" stroke-width="1.57" fill="none" />
<path d="M779,606 L779.5,614 L785,617" stroke-width="1.46" fill="none" />
<path d="M806,618 L812.5,614 M807,606 L806,627.5" stroke-width="1.57" fill="none" />
<circle cx="817.8" cy="605.4" r="3.6" stroke-width="1.6" fill="none"/>
<path d="M812,601.5 L815,602.5" stroke-width="1.68" fill="none" />
<path d="M798,631.8 L798,655.8" stroke-width="1.79" fill="none" />
<path d="M777.5,632 A2.6,2.6 0 1 0 777.5,637" stroke-width="1.57" fill="none" />
<path d="M786,629.5 L790.8,629.5 L790.8,641.4 L786,641.4 Z" stroke-width="1.57" fill="none" />
<path d="M774,645.5 L789.5,645.5" stroke-width="3.36" fill="none" />
<path d="M839.5,658 Q838.5,655.5 841,655 L850,655.5 L870,652.8 M850,661.8 L870,660.7 M850,655.5 L850,667 L841,668 Q838.5,667.5 839,665 Z" stroke-width="1.9" fill="none" />
<path d="M841,657 L847,665.5 M847,657 L842,664" stroke-width="1.46" fill="none" />
<ellipse cx="871.5" cy="656.6" rx="2.3" ry="4.2" stroke-width="1.7" fill="none" transform="rotate(0 871.5 656.6)"/>
<path d="M853,656 L853,661.5" stroke-width="1.57" fill="none" />
<ellipse cx="883.8" cy="654.4" rx="5.2" ry="9.2" stroke-width="1.8" fill="none" transform="rotate(-15 883.8 654.4)"/>
<path d="M885.5,649.5 Q882,654 885.5,659.5" stroke-width="1.57" fill="none" />
<path d="M887,645.5 L894,651 M885,663.5 L897.2,665" stroke-width="1.79" fill="none" />
<path d="M894,649 L913,636.5 L922.4,643.9 L902.5,657.5 Q896,657.5 894,649 Z" stroke-width="2.02" fill="none" />
<path d="M913,636.5 L915.5,645.5" stroke-width="1.46" fill="none" />
<path d="M897,651 L898.5,656" stroke-width="1.46" fill="none" />
<path d="M922.4,643.9 L919.3,677.5 L916,679.6 L899.3,669 L897.2,665 L902.5,657.5" stroke-width="2.02" fill="none" />
<path d="M903,672 L909,675.5" stroke-width="2.46" fill="none" />
<path d="M824.6,699.9 L734.4,758.2" stroke-width="3.36" fill="none" />
<path d="M831.2,712 L749.8,769.2" stroke-width="1.9" fill="none" />
<ellipse cx="829.5" cy="706.3" rx="3.4" ry="5.2" stroke-width="1.6" fill="none" transform="rotate(35 829.5 706.3)"/>
<path d="M824.6,699.9 L831,701.5" stroke-width="1.79" fill="none" />
<path d="M655.2,748.3 L727.8,762.6 M655.2,763.7 L725.6,782.4" stroke-width="1.9" fill="none" />
<ellipse cx="647.5" cy="754.5" rx="8.2" ry="6.8" stroke-width="1.7" fill="none" transform="rotate(15 647.5 754.5)"/>
<path d="M655.2,748.3 Q658,756 655.2,763.7" stroke-width="1.57" fill="none" />
<circle cx="645.5" cy="754" r="1.7" stroke-width="1" fill="#000"/>
<circle cx="711.3" cy="767" r="1.7" stroke-width="1" fill="#000"/>
<path d="M760.8,768 L807,782.4 Q814,784 814.5,788.5 Q813,794.5 806,795.5 L800.4,794.5 L745.4,780.2" stroke-width="1.9" fill="none" />
<circle cx="756.4" cy="775.8" r="1.6" stroke-width="1" fill="#000"/>
<path d="M808,785 Q805,789 807.5,793.5" stroke-width="1.46" fill="none" />
<circle cx="736.6" cy="769.2" r="10" stroke-width="1.8" fill="#fff"/>
<path d="M727.5,772 L731,768.5 L735.5,770 L736,775.5 L732,778.5 L728,777 Z" stroke-width="1.79" fill="none" />
<path d="M736.6,759.2 Q745,764 743.5,775" stroke-width="1.46" fill="none" />
<path d="M701.4,778 L620,817.6" stroke-width="1.9" fill="none" />
<path d="M697,776.5 L619,814.5" stroke-width="1.34" fill="none" />
<path d="M723.4,789 L648.6,826.4" stroke-width="1.9" fill="none" />
<ellipse cx="719.5" cy="785.5" rx="3.2" ry="4.6" stroke-width="1.5" fill="#fff" transform="rotate(25 719.5 785.5)"/>
<path d="M722,782 L727,780.5" stroke-width="1.57" fill="none" />
<circle cx="705.8" cy="785.7" r="1.1" stroke-width="1" fill="#000"/>
<circle cx="650.8" cy="811" r="1.6" stroke-width="1" fill="#000"/>
<circle cx="638.7" cy="818.7" r="2" stroke-width="1" fill="#000"/>
<path d="M617,818.8 L640,808" stroke-width="3.36" fill="none" />
<path d="M617,818.8 L614.2,823 L612.8,832.8 L596,837 L589,856.6 L587.6,860.8 L597.4,867.8 L598.8,904.2 L615.6,919.6 L622.6,916.8 L626,912" stroke-width="2.24" fill="none" />
<path d="M617,818.8 L626.5,822 L628,827" stroke-width="1.79" fill="none" />
<path d="M612.8,836 Q602,838.5 600,846 Q595.5,855 597,860 Q604,863 605.5,870 Q603,880 607,888 Q606,897 610,903 Q614,908 620,910" stroke-width="1.9" fill="none" />
<path d="M616,834 Q611,846 613.5,858 Q617,866 622,870 Q616,876 616,884 Q618,890 624,890" stroke-width="1.79" fill="none" />
<path d="M622,843 Q618.5,849.5 621.5,855 Q624.5,850 622,843 Z" stroke-width="1.34" fill="#000" />
<path d="M602,848 L609,852 M600.5,857 L608.5,858.5 M603,866 L607,872 M606,880 L610,886" stroke-width="1.57" fill="none" />
<path d="M609,896 Q613,893 614,899 Q611,903 609,896 Z M617,907 Q621,904 623,909" stroke-width="1.68" fill="none" />
<path d="M713.4,913 Q716,917 720.6,917.5 L735,918.4 L762,912.1" stroke-width="1.68" fill="none" />
<path d="M720.6,914.8 Q721,926 724.2,927.4 Q730,930.5 736.8,930.1 L805.2,912.1" stroke-width="1.9" fill="none" />
<path d="M828.6,916.6 L834,912" stroke-width="1.68" fill="none" />
<rect x="625.7" y="826.8" width="318.7" height="48.6" style="fill:#484848;stroke:none"/>
<rect x="625.2" y="875.2" width="319.6" height="36.6" style="fill:#fcfcfc;stroke:none"/>
<text class="p" font-size="20.8" transform="translate(630.0 857.2) scale(2.98 1)" textLength="103.9" lengthAdjust="spacing">PORSCHE</text>
<text class="g" font-size="23.2" x="635.6" y="906.3" letter-spacing="8.0" word-spacing="8.2">GENUINE PARTS</text>
</svg>
</body></html>
